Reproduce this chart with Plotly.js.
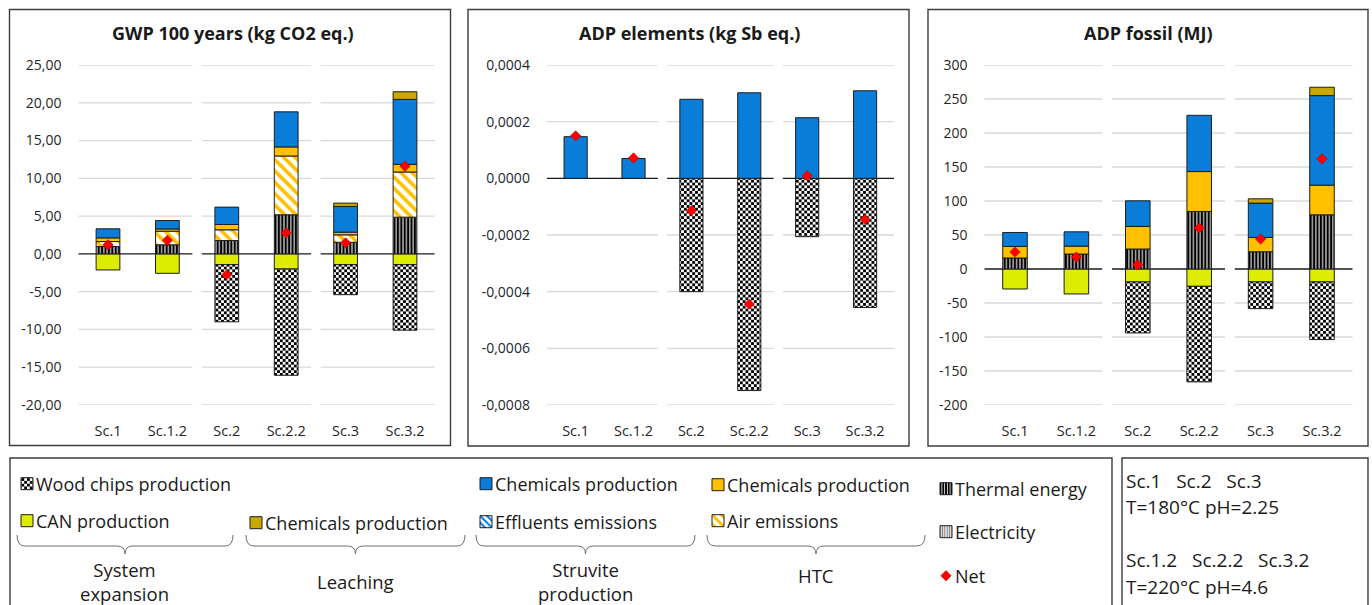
<!DOCTYPE html>
<html>
<head>
<meta charset="utf-8">
<script src="https://cdn.plot.ly/plotly-3.0.1.min.js"></script>
<style>
  html, body { margin: 0; padding: 0; background: #ffffff; }
  #chart { width: 1372px; height: 605px; }
  /* pull legend labels closer to their swatches (legendtext, legend2text, ...) */
  #chart g.traces > text { transform: translate(-11px, 0); }
</style>
</head>
<body>
<div id="chart"></div>
<script>
// ---- Scenarios ----
const scenarios = ['Sc.1', 'Sc.1.2', 'Sc.2', 'Sc.2.2', 'Sc.3', 'Sc.3.2'];

// ---- GWP 100 years (kg CO2 eq.) ----
const gwpCAN        = [-2.13, -2.57, -1.42, -2.00, -1.42, -1.42];
const gwpWoodChips  = [null, null, -7.57, -14.07, -3.98, -8.68];
const gwpThermal    = [0.97, 1.20, 1.77, 5.18, 1.54, 4.86];
const gwpAir        = [0.66, 1.80, 1.42, 7.78, 0.98, 5.98];
const gwpChemHTC    = [0.49, 0.30, 0.70, 1.20, 0.35, 1.02];
const gwpChemStruv  = [1.20, 1.12, 2.30, 4.64, 3.41, 8.59];
const gwpChemLeach  = [null, null, null, null, 0.44, 1.01];
const gwpNet        = [1.20, 1.80, -2.75, 2.79, 1.46, 11.60];

// ---- ADP elements (kg Sb eq.) ----
const adpeWoodChips = [null, null, -0.000400, -0.000749, -0.000206, -0.000456];
const adpeChemStruv = [0.000147, 0.000070, 0.000279, 0.000302, 0.000214, 0.000309];
const adpeNet       = [0.000150, 0.000072, -0.000114, -0.000444, 0.000009, -0.000145];

// ---- ADP fossil (MJ) ----
const adpfCAN       = [-29.4, -36.7, -19.1, -25.5, -19.1, -19.1];
const adpfWoodChips = [null, null, -74.9, -140.5, -39.2, -84.7];
const adpfThermal   = [16.2, 22.0, 29.4, 84.6, 25.4, 79.7];
const adpfChemHTC   = [17.0, 11.7, 33.2, 58.7, 21.0, 43.6];
const adpfChemStruv = [20.5, 21.0, 37.7, 82.7, 50.5, 131.7];
const adpfChemLeach = [null, null, null, null, 6.3, 12.3];
const adpfNet       = [25.0, 17.6, 6.3, 60.2, 44.0, 162.0];

// ---- Tick labels ----
const gwpTickVals  = [25, 20, 15, 10, 5, 0, -5, -10, -15, -20];
const gwpTickText  = ['25,00', '20,00', '15,00', '10,00', '5,00', '0,00', '-5,00', '-10,00', '-15,00', '-20,00'];
const adpeTickVals = [0.0004, 0.0002, 0, -0.0002, -0.0004, -0.0006, -0.0008];
const adpeTickText = ['0,0004', '0,0002', '0,0000', '-0,0002', '-0,0004', '-0,0006', '-0,0008'];
const adpfTickVals = [300, 250, 200, 150, 100, 50, 0, -50, -100, -150, -200];
const adpfTickText = ['300', '250', '200', '150', '100', '50', '0', '-50', '-100', '-150', '-200'];

const panelTitles = ['GWP 100 years (kg CO2 eq.)', 'ADP elements (kg Sb eq.)', 'ADP fossil (MJ)'];

// ---- Page geometry helpers (pixels -> paper fractions) ----
const W = 1372, H = 605;
const px = x => x / W;
const py = y => 1 - y / H;

const FONT = 'Open Sans, Noto Sans, sans-serif';
const TXT = '#262626';
const WOOD = 'Wood chips production';

const BLUE = '#0A7DD9', ORANGE = '#FFC000', LIME = '#DDEC00', GOLD = '#C9A900';
const OUTLINE = { color: '#1e1e1e', width: 1 };

// Series in stacking order (negatives: CAN nearest zero, then wood chips)
const series = [
  { name: 'CAN production', legend: 'legend2', lx: 27, ly: 521,
    data: [gwpCAN, null, adpfCAN],
    marker: { color: LIME } },
  { name: WOOD, legend: 'legend', lx: 27, ly: 484,
    data: [gwpWoodChips, adpeWoodChips, adpfWoodChips],
    marker: { color: '#ffffff', pattern: { shape: 'x', fgcolor: '#000', bgcolor: '#fff', size: 4, solidity: 0.5 } } },
  { name: 'Electricity', legend: 'legend9', lx: 946, ly: 532,
    data: [null, null, null],
    marker: { color: '#ffffff', pattern: { shape: '|', fgcolor: '#7a7a7a', bgcolor: '#ffffff', size: 3, solidity: 0.5 } } },
  { name: 'Thermal energy', legend: 'legend8', lx: 946, ly: 489,
    data: [gwpThermal, null, adpfThermal],
    marker: { color: '#000000', pattern: { shape: '|', fgcolor: '#ffffff', bgcolor: '#000000', size: 3.4, solidity: 0.3 } } },
  { name: 'Air emissions', legend: 'legend7', lx: 718, ly: 521,
    data: [gwpAir, null, null],
    marker: { color: '#ffffff', pattern: { shape: '\\', fgcolor: ORANGE, bgcolor: '#ffffff', size: 8, solidity: 0.45 } } },
  { name: 'Chemicals production', legend: 'legend6', lx: 718, ly: 485,
    data: [gwpChemHTC, null, adpfChemHTC],
    marker: { color: ORANGE } },
  { name: 'Effluents emissions', legend: 'legend5', lx: 486, ly: 522,
    data: [null, null, null],
    marker: { color: '#ffffff', pattern: { shape: '\\', fgcolor: BLUE, bgcolor: '#ffffff', size: 6, solidity: 0.45 } } },
  { name: 'Chemicals production', legend: 'legend4', lx: 486, ly: 484,
    data: [gwpChemStruv, adpeChemStruv, adpfChemStruv],
    marker: { color: BLUE } },
  { name: 'Chemicals production', legend: 'legend3', lx: 256, ly: 523,
    data: [gwpChemLeach, null, adpfChemLeach],
    marker: { color: GOLD } }
];
const netSeries = { name: 'Net', legend: 'legend10', lx: 946, ly: 576, data: [gwpNet, adpeNet, adpfNet] };

const axisIds = [['x', 'y'], ['x2', 'y2'], ['x3', 'y3']];
const traces = [];

series.forEach((s, si) => {
  [0, 1, 2].forEach(p => {
    const vals = s.data[p] || [null, null, null, null, null, null];
    traces.push({
      type: 'bar',
      name: s.name,
      x: scenarios,
      y: vals,
      xaxis: axisIds[p][0],
      yaxis: axisIds[p][1],
      marker: Object.assign({}, s.marker, { line: OUTLINE }),
      legend: s.legend,
      legendgroup: 'g' + si,
      showlegend: p === 0,
      hoverinfo: 'skip'
    });
  });
});
[0, 1, 2].forEach(p => {
  traces.push({
    type: 'scatter',
    mode: 'markers',
    name: netSeries.name,
    x: scenarios,
    y: netSeries.data[p],
    xaxis: axisIds[p][0],
    yaxis: axisIds[p][1],
    marker: { symbol: 'diamond', size: 8, color: '#FF0000', line: { color: '#B00000', width: 0.5 } },
    legend: netSeries.legend,
    legendgroup: 'net',
    showlegend: p === 0,
    cliponaxis: false,
    hoverinfo: 'skip'
  });
});

// ---- Axes ----
const xDomPx = [[78.3, 434.7], [546.7, 894], [984.3, 1352.7]];
const yDom = [py(405), py(65)];
const yTicks = [[gwpTickVals, gwpTickText, [-20, 25]], [adpeTickVals, adpeTickText, [-0.0008, 0.0004]], [adpfTickVals, adpfTickText, [-200, 300]]];

const layout = {
  width: W, height: H,
  margin: { l: 0, r: 0, t: 0, b: 0 },
  paper_bgcolor: '#ffffff',
  plot_bgcolor: 'rgba(0,0,0,0)',
  barmode: 'relative',
  bargap: 0.6,
  font: { family: FONT, color: TXT, size: 14 },
  shapes: [],
  annotations: []
};

[0, 1, 2].forEach(p => {
  const sfx = p === 0 ? '' : String(p + 1);
  layout['xaxis' + sfx] = {
    domain: [px(xDomPx[p][0]), px(xDomPx[p][1])],
    anchor: 'y' + sfx,
    type: 'category',
    categoryarray: scenarios,
    range: [-0.5, 5.5],
    showgrid: false, zeroline: false, showline: false,
    ticks: 'outside', ticklen: 13, tickcolor: 'rgba(0,0,0,0)',
    tickfont: { family: FONT, size: 14.5, color: TXT },
    fixedrange: true
  };
  layout['yaxis' + sfx] = {
    domain: yDom,
    anchor: 'x' + sfx,
    range: yTicks[p][2],
    tickvals: yTicks[p][0],
    ticktext: yTicks[p][1],
    showgrid: false, zeroline: false, showline: false,
    ticks: 'outside', ticklen: 13, tickcolor: 'rgba(0,0,0,0)',
    tickfont: { family: FONT, size: 14, color: TXT },
    fixedrange: true
  };

  // Gridlines, broken between the scenario pairs
  const segs = [[-0.5, 1.42], [1.58, 3.42], [3.58, 5.5]];
  yTicks[p][0].forEach(v => {
    segs.forEach(sg => {
      layout.shapes.push({
        type: 'line', xref: 'x' + sfx, yref: 'y' + sfx,
        x0: sg[0], x1: sg[1], y0: v, y1: v,
        line: v === 0 ? { color: '#1a1a1a', width: 1.4 } : { color: '#D9D9D9', width: 1.3 },
        layer: 'below'
      });
    });
  });
});

// Panel frames
const framesPx = [[9.5, 9.5, 450.5, 445.5], [468, 9.5, 909, 446], [928, 9.5, 1368, 446], [10, 458, 1112, 607], [1122, 458, 1368, 607]];
framesPx.forEach(f => {
  layout.shapes.push({
    type: 'rect', xref: 'paper', yref: 'paper',
    x0: px(f[0]), x1: px(f[2]), y0: py(f[3]), y1: py(f[1]),
    line: { color: '#3c3c3c', width: 1.4 }, fillcolor: 'rgba(0,0,0,0)', layer: 'below'
  });
});

// Panel titles
const titleX = [233, 689, 1148];
panelTitles.forEach((t, i) => {
  layout.annotations.push({
    xref: 'paper', yref: 'paper', x: px(titleX[i]), y: py(33),
    xanchor: 'center', yanchor: 'middle', showarrow: false,
    text: '<b>' + t + '</b>', font: { family: FONT, size: 18, color: '#1a1a1a' }
  });
});

// Curly braces under the legend groups
function bracePath(x1, x2, yTop, yMid, yTip) {
  const xm = (x1 + x2) / 2, r = 8;
  const P = (x, y) => px(x).toFixed(5) + ',' + py(y).toFixed(5);
  return 'M' + P(x1, yTop) + ' Q' + P(x1, yMid) + ' ' + P(x1 + r, yMid) +
         ' L' + P(xm - r, yMid) + ' Q' + P(xm, yMid) + ' ' + P(xm, yTip) +
         ' Q' + P(xm, yMid) + ' ' + P(xm + r, yMid) +
         ' L' + P(x2 - r, yMid) + ' Q' + P(x2, yMid) + ' ' + P(x2, yTop);
}
const braceGroups = [
  { x1: 17, x2: 233, label: 'System<br>expansion', ly: 581 },
  { x1: 246, x2: 465, label: 'Leaching', ly: 581 },
  { x1: 476, x2: 695, label: 'Struvite<br>production', ly: 581 },
  { x1: 707, x2: 925, label: 'HTC', ly: 575 }
];
braceGroups.forEach(b => {
  layout.shapes.push({
    type: 'path', xref: 'paper', yref: 'paper',
    path: bracePath(b.x1, b.x2, 535, 546, 554),
    line: { color: '#6e6e6e', width: 1 }
  });
  layout.annotations.push({
    xref: 'paper', yref: 'paper', x: px((b.x1 + b.x2) / 2), y: py(b.ly),
    xanchor: 'center', yanchor: 'middle', showarrow: false,
    text: b.label, font: { family: FONT, size: 18.5, color: '#1a1a1a' }
  });
});

// Scenario conditions box
const condLines = [
  ['Sc.1   Sc.2   Sc.3', 481],
  ['T=180°C pH=2.25', 507],
  ['Sc.1.2   Sc.2.2   Sc.3.2', 560],
  ['T=220°C pH=4.6', 587]
];
condLines.forEach(l => {
  layout.annotations.push({
    xref: 'paper', yref: 'paper', x: px(1124), y: py(l[1]),
    xanchor: 'left', yanchor: 'middle', showarrow: false,
    text: l[0], font: { family: FONT, size: 19, color: '#1a1a1a' }
  });
});

// One legend per entry, placed in the legend panel
series.concat([netSeries]).forEach(s => {
  layout[s.legend] = {
    x: px(s.lx - 20), y: py(s.ly),
    xanchor: 'left', yanchor: 'middle',
    bgcolor: 'rgba(0,0,0,0)', borderwidth: 0,
    font: { family: FONT, size: 18, color: '#1a1a1a' },
    itemclick: false, itemdoubleclick: false
  };
});

// Checkerboard fill for the wood chips bars and their legend swatch
function applyChecker() {
  const svg = document.querySelector('#chart .main-svg');
  if (!svg) return;
  const NS = 'http://www.w3.org/2000/svg';
  if (!document.getElementById('woodChecker')) {
    let defs = svg.querySelector('defs');
    if (!defs) { defs = document.createElementNS(NS, 'defs'); svg.insertBefore(defs, svg.firstChild); }
    const pat = document.createElementNS(NS, 'pattern');
    pat.setAttribute('id', 'woodChecker');
    pat.setAttribute('patternUnits', 'userSpaceOnUse');
    pat.setAttribute('width', '5.6');
    pat.setAttribute('height', '5.6');
    const mk = (x, y, w, h, c) => {
      const r = document.createElementNS(NS, 'rect');
      r.setAttribute('x', x); r.setAttribute('y', y);
      r.setAttribute('width', w); r.setAttribute('height', h);
      r.setAttribute('fill', c);
      pat.appendChild(r);
    };
    mk(0, 0, 5.6, 5.6, '#ffffff');
    mk(0, 0, 2.8, 2.8, '#000000');
    mk(2.8, 2.8, 2.8, 2.8, '#000000');
    defs.appendChild(pat);
  }
  const traceOf = d => {
    if (!d) return null;
    if (d[0] && d[0].trace) return d[0].trace;
    if (d[0] && d[0][0] && d[0][0].trace) return d[0][0].trace;
    return null;
  };
  document.querySelectorAll('#chart g.trace.bars').forEach(g => {
    const t = traceOf(g.__data__);
    if (t && t.name === WOOD) g.querySelectorAll('path').forEach(p => { p.style.fill = 'url(#woodChecker)'; });
  });
  document.querySelectorAll('#chart g.traces').forEach(g => {
    const t = traceOf(g.__data__);
    if (t && t.name === WOOD) g.querySelectorAll('.legendsymbols path').forEach(p => { p.style.fill = 'url(#woodChecker)'; });
  });
}

const gd = document.getElementById('chart');
Plotly.newPlot(gd, traces, layout, { staticPlot: true, displayModeBar: false }).then(() => {
  applyChecker();
  setTimeout(applyChecker, 50);
  gd.on('plotly_afterplot', applyChecker);
});
</script>
</body>
</html>
